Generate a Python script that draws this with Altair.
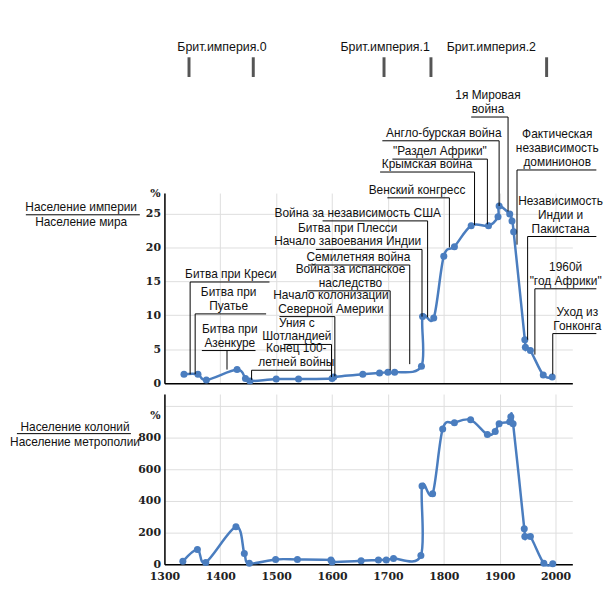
import altair as alt
import pandas as pd

# ---------------- data ----------------
top_years = [1335, 1360, 1375, 1430, 1445, 1453, 1500, 1540, 1600, 1603, 1655, 1685, 1700, 1712,
             1760, 1762, 1782, 1800, 1819, 1849, 1880, 1897, 1899, 1918, 1922, 1925, 1945, 1946,
             1955, 1978, 1994]
top_vals = [1.3, 1.3, 0.45, 2.0, 0.7, 0.3, 0.6, 0.6, 0.7, 0.9, 1.3, 1.5, 1.6, 1.6,
            2.5, 9.8, 9.6, 18.7, 20.1, 23.2, 23.2, 24.5, 26.1, 24.9, 23.9, 22.3, 6.4, 5.3,
            4.8, 1.2, 0.9]

bot_years = [1333, 1359, 1374, 1428, 1443, 1452, 1499, 1538, 1598, 1600, 1652, 1683, 1697, 1710,
             1759, 1761, 1780, 1798, 1819, 1848, 1878, 1892, 1899, 1918, 1920, 1924, 1944, 1945,
             1955, 1979, 1995]
bot_vals = [19, 94, 12, 237, 69, 6, 31, 31, 28, 15, 22, 28, 28, 36,
            56, 494, 445, 855, 893, 912, 819, 838, 888, 900, 931, 888, 225, 175,
            175, 6, 3]

x_ticks = [1300, 1400, 1500, 1600, 1700, 1800, 1900, 2000]
top_ticks = [0, 5, 10, 15, 20, 25]
bot_ticks = [0, 200, 400, 600, 800, 1000]

# annotations (top panel): text, text centre year, underline level, underline span, leader year, leader end
ann_text = ["Битва при Креси", "Битва при\nПуатье", "Битва при\nАзенкуре", "Конец 100-\nлетней войны",
            "Уния  с\nШотландией", "Начало колонизации\nСеверной Америки",
            "Война за испанское\nнаследство", "Семилетняя война",
            "Битва при Плесси\nНачало завоевания Индии", "Война за независимость США",
            "Венский конгресс", "Крымская война", "\"Раздел Африки\"", "Англо-бурская война",
            "1я Мировая\nвойна", "Фактическая\nнезависимость\nдоминионов",
            "Независимость\nИндии и\nПакистана", "1960й\n\"год Африки\"", "Уход из\nГонконга"]
ann_tx = [1419, 1415, 1417, 1536, 1537, 1598, 1633, 1647, 1628, 1646, 1752, 1770, 1793, 1800,
          1879, 2003, 2009, 2018, 2039]
ann_uy = [14.9, 10.2, 4.8, 1.9, 5.7, 9.8, 13.6, 17.4, 19.7, 23.9, 27.3, 31.1, 33.0, 35.7,
          39.2, 31.4, 21.6, 13.9, 7.3]
ann_ux1 = [1346, 1355, 1367, 1456, 1513, 1506, 1555, 1557, 1571, 1583, 1699, 1686, 1708, 1690,
           1849, 1931, 1950, 1963, 1995]
ann_ux2 = [1488, 1482, 1463, 1598, 1599, 1605, 1704, 1739, 1761, 1771, 1810, 1855, 1878, 1899,
           1915, 2073, 2073, 2073, 2073]
ann_vx = [1346, 1355, 1412, 1456, 1599, 1605, 1704, 1739, 1761, 1771, 1810, 1855, 1878, 1899,
          1915, 1931, 1950, 1963, 1995]
ann_vy = [1.3, 1.3, 2.0, 0.5, 0.9, 1.0, 1.9, 2.8, 9.8, 9.7, 20.0, 23.3, 23.4, 26.1,
          25.3, 20.4, 6.4, 4.2, 1.3]
LINE_STEP = 2.04  # one text line (14 px) in top-panel units

# period header
hdr_text = ["Брит.империя.0", "Брит.империя.1", "Брит.империя.2"]
hdr_x = [1403, 1695, 1885]
hdr_y = [49.5, 49.5, 49.5]
hdr_tick_x = [1344, 1459, 1693, 1777, 1984]
hdr_tick_y1 = [48.0] * 5
hdr_tick_y2 = [45.1] * 5

# side labels (fractions)
top_lab_text = ["Население империи", "Население мира", "%"]
top_lab_x = [1151, 1151, 1293]
top_lab_y = [26.0, 23.8, 27.85]
top_frac = {"x1": [1052], "x2": [1256], "y": [24.8]}
bot_lab_text = ["Население колоний", "Население метрополии", "%"]
bot_lab_x = [1140, 1140, 1293]
bot_lab_y = [869, 775, 937]
bot_frac = {"x1": [1036], "x2": [1240], "y": [825]}

# ---------------- frames ----------------
top_df = pd.DataFrame({"year": top_years, "val": top_vals})
bot_df = pd.DataFrame({"year": bot_years, "val": bot_vals})
ann_df = pd.DataFrame({"text": ann_text, "tx": ann_tx, "uy": ann_uy, "ux1": ann_ux1,
                       "ux2": ann_ux2, "vx": ann_vx, "vy": ann_vy})
rows = []
for t, tx, uy in zip(ann_text, ann_tx, ann_uy):
    parts = t.split("\n")
    n = len(parts)
    for i, p in enumerate(parts):
        rows.append({"line": p, "tx": tx, "ty": uy + (n - 1 - i) * LINE_STEP})
ann_lines = pd.DataFrame(rows)

hdr_df = pd.DataFrame({"text": hdr_text, "x": hdr_x, "y": hdr_y})
hdr_tick_df = pd.DataFrame({"x": hdr_tick_x, "y1": hdr_tick_y1, "y2": hdr_tick_y2})
top_lab_df = pd.DataFrame({"text": top_lab_text, "x": top_lab_x, "y": top_lab_y})
bot_lab_df = pd.DataFrame({"text": bot_lab_text, "x": bot_lab_x, "y": bot_lab_y})

BLUE = "#4a7dbf"
GRID = "#dedede"
SANS = "Liberation Sans"

xs = alt.Scale(domain=[1300, 2030], nice=False, zero=False)
ax_top_x = alt.Axis(values=x_ticks, labels=False, ticks=False, title=None, grid=True,
                    domainColor="black", domainWidth=1.5, gridColor=GRID)
ax_bot_x = alt.Axis(values=x_ticks, ticks=False, title=None, grid=True, format="d",
                    labelFont="DejaVu Serif", labelFontWeight="bold", labelFontSize=11,
                    labelColor="#222", labelPadding=6, labelFlush=False,
                    domainColor="black", domainWidth=1.5, gridColor=GRID)
ys_top = alt.Scale(domain=[0, 28], nice=False, zero=True)
ys_bot = alt.Scale(domain=[0, 1075], nice=False, zero=True)
ax_top_y = alt.Axis(values=top_ticks, title=None, ticks=False, labelPadding=4,
                    labelFont="DejaVu Serif", labelFontWeight="bold", labelFontSize=11,
                    labelColor="#222", domainColor="black", domainWidth=1.5, grid=True,
                    gridColor=GRID)
ax_bot_y = alt.Axis(values=bot_ticks, title=None, ticks=False, labelPadding=4,
                    labelFont="DejaVu Serif", labelFontWeight="bold", labelFontSize=11,
                    labelColor="#222", domainColor="black", domainWidth=1.5, grid=True,
                    gridColor=GRID, labelExpr="datum.value == 1000 ? '' : datum.label")


def XT(f):
    return alt.X(f"{f}:Q", scale=xs, axis=ax_top_x)


def YT(f):
    return alt.Y(f"{f}:Q", scale=ys_top, axis=ax_top_y)


def XB(f):
    return alt.X(f"{f}:Q", scale=xs, axis=ax_bot_x)


def YB(f):
    return alt.Y(f"{f}:Q", scale=ys_bot, axis=ax_bot_y)


# ---------------- top panel ----------------
t_line = alt.Chart(top_df).mark_line(interpolate="cardinal", color=BLUE, strokeWidth=2.5).encode(
    x=XT("year"), y=YT("val"))
t_pts = alt.Chart(top_df).mark_circle(color=BLUE, size=50, opacity=1).encode(
    x=XT("year"), y=YT("val"))
t_under = alt.Chart(ann_df).mark_rule(color="black", strokeWidth=1).encode(
    x=XT("ux1"), x2="ux2", y=YT("uy"))
t_vert = alt.Chart(ann_df).mark_rule(color="black", strokeWidth=1).encode(
    x=XT("vx"), y=YT("uy"), y2="vy")
t_text = alt.Chart(ann_lines).mark_text(font=SANS, fontSize=12, color="#111", baseline="bottom",
                                        dy=-1).encode(
    x=XT("tx"), y=YT("ty"), text="line:N")
t_hdr = alt.Chart(hdr_df).mark_text(font=SANS, fontSize=12.5, color="#111").encode(
    x=XT("x"), y=YT("y"), text="text:N")
t_hdr_ticks = alt.Chart(hdr_tick_df).mark_rule(color="#555", strokeWidth=3).encode(
    x=XT("x"), y=YT("y1"), y2="y2")
t_lab_c = alt.Chart(top_lab_df.iloc[:2]).mark_text(font=SANS, fontSize=12, color="#111").encode(
    x=XT("x"), y=YT("y"), text="text:N")
t_pct = alt.Chart(top_lab_df.iloc[2:]).mark_text(font="DejaVu Serif", fontWeight="bold", fontSize=11,
                                                 color="#222", align="right").encode(
    x=XT("x"), y=YT("y"), text="text:N")
t_frac = alt.Chart(pd.DataFrame(top_frac)).mark_rule(color="black", strokeWidth=1).encode(
    x=XT("x1"), x2="x2", y=YT("y"))

top = alt.layer(t_line, t_pts, t_under, t_vert, t_text, t_hdr, t_hdr_ticks, t_lab_c, t_pct,
                t_frac).properties(width=412, height=192)

# ---------------- bottom panel ----------------
b_line = alt.Chart(bot_df).mark_line(interpolate="cardinal", color=BLUE, strokeWidth=2.5).encode(
    x=XB("year"), y=YB("val"))
b_pts = alt.Chart(bot_df).mark_circle(color=BLUE, size=50, opacity=1).encode(
    x=XB("year"), y=YB("val"))
b_lab_c = alt.Chart(bot_lab_df.iloc[:2]).mark_text(font=SANS, fontSize=12, color="#111").encode(
    x=XB("x"), y=YB("y"), text="text:N")
b_pct = alt.Chart(bot_lab_df.iloc[2:]).mark_text(font="DejaVu Serif", fontWeight="bold", fontSize=11,
                                                 color="#222", align="right").encode(
    x=XB("x"), y=YB("y"), text="text:N")
b_frac = alt.Chart(pd.DataFrame(bot_frac)).mark_rule(color="black", strokeWidth=1).encode(
    x=XB("x1"), x2="x2", y=YB("y"))

bottom = alt.layer(b_line, b_pts, b_lab_c, b_pct, b_frac).properties(width=412, height=172)

chart = alt.vconcat(top, bottom, spacing=6).properties(
    padding={"left": 2, "top": 30, "right": 0, "bottom": 5}
).configure_view(stroke=None)

chart.save("out.html", embed_options={"renderer": "svg", "actions": False})
